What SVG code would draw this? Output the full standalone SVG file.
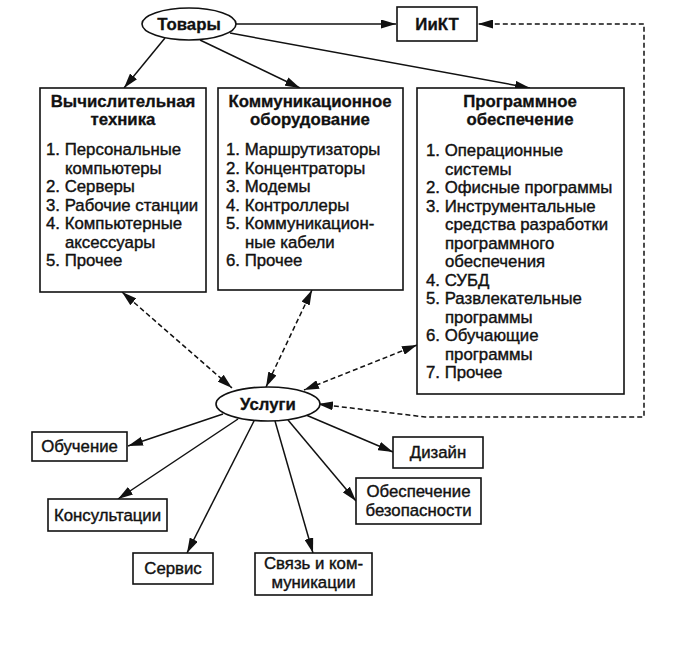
<svg xmlns="http://www.w3.org/2000/svg" width="678" height="671" viewBox="0 0 678 671">
<style>
.bx{fill:#fff;stroke:#111;stroke-width:1.6}
.el{fill:#fff;stroke:#111;stroke-width:1.6}
.t{font-family:"Liberation Sans",Arial,sans-serif;font-size:16.8px;fill:#111;stroke:#111;stroke-width:0.4}
.h{font-family:"Liberation Sans",Arial,sans-serif;font-size:16.8px;font-weight:bold;fill:#111;stroke:#111;stroke-width:0.3}
.c{text-anchor:middle}
.ln{fill:none;stroke:#111;stroke-width:1.5}
.ds{fill:none;stroke:#111;stroke-width:1.5;stroke-dasharray:5 3}
</style>
<defs>
<marker id="ah" viewBox="0 0 15 9" refX="15" refY="4.5" markerWidth="15" markerHeight="9" markerUnits="userSpaceOnUse" orient="auto-start-reverse">
<path d="M0,0 L15,4.5 L0,9 Z" fill="#111"/>
</marker>
</defs>
<rect width="678" height="671" fill="#fff"/>
<g id="connectors">
<line class="ln" x1="236" y1="24" x2="396" y2="24" marker-end="url(#ah)"/>
<line class="ln" x1="165" y1="38" x2="124" y2="88" marker-end="url(#ah)"/>
<line class="ln" x1="200" y1="40" x2="300" y2="88" marker-end="url(#ah)"/>
<line class="ln" x1="230" y1="33" x2="530" y2="88" marker-end="url(#ah)"/>
<polyline class="ds" points="318,404 425,417 644,417 644,24 478,24" marker-start="url(#ah)" marker-end="url(#ah)"/>
<line class="ds" x1="122" y1="292" x2="232" y2="388" marker-start="url(#ah)" marker-end="url(#ah)"/>
<line class="ds" x1="312" y1="290" x2="266" y2="387" marker-start="url(#ah)" marker-end="url(#ah)"/>
<line class="ds" x1="417" y1="345" x2="304" y2="390" marker-start="url(#ah)" marker-end="url(#ah)"/>
<line class="ln" x1="223" y1="414" x2="128" y2="446" marker-end="url(#ah)"/>
<line class="ln" x1="238" y1="419" x2="118" y2="499" marker-end="url(#ah)"/>
<line class="ln" x1="254" y1="421" x2="187" y2="553" marker-end="url(#ah)"/>
<line class="ln" x1="275" y1="421" x2="313" y2="553" marker-end="url(#ah)"/>
<line class="ln" x1="288" y1="420" x2="356" y2="501" marker-end="url(#ah)"/>
<line class="ln" x1="306" y1="415" x2="393" y2="452" marker-end="url(#ah)"/>
</g>
<g id="tovary">
<ellipse class="el" cx="189" cy="24" rx="47" ry="16"/>
<text class="h c" x="189" y="30">Товары</text>
</g>
<g id="ikt">
<rect class="bx" x="397" y="7" width="80" height="34"/>
<text class="h c" x="437" y="30">ИиКТ</text>
</g>
<g id="vt">
<rect class="bx" x="40" y="88" width="166" height="204"/>
<text class="h c" x="123" y="107">Вычислительная</text>
<text class="h c" x="123" y="125">техника</text>
<text class="t" x="46" y="155">1. Персональные</text>
<text class="t" x="65" y="173.5">компьютеры</text>
<text class="t" x="46" y="192">2. Серверы</text>
<text class="t" x="46" y="210.5">3. Рабочие станции</text>
<text class="t" x="46" y="229">4. Компьютерные</text>
<text class="t" x="65" y="247.5">аксессуары</text>
<text class="t" x="46" y="266">5. Прочее</text>
</g>
<g id="ko">
<rect class="bx" x="218" y="88" width="185" height="202"/>
<text class="h c" x="310" y="107">Коммуникационное</text>
<text class="h c" x="310" y="125">оборудование</text>
<text class="t" x="226" y="155">1. Маршрутизаторы</text>
<text class="t" x="226" y="173.5">2. Концентраторы</text>
<text class="t" x="226" y="192">3. Модемы</text>
<text class="t" x="226" y="210.5">4. Контроллеры</text>
<text class="t" x="226" y="229">5. Коммуникацион-</text>
<text class="t" x="245" y="247.5">ные кабели</text>
<text class="t" x="226" y="266">6. Прочее</text>
</g>
<g id="po">
<rect class="bx" x="417" y="88" width="207" height="306"/>
<text class="h c" x="520" y="107">Программное</text>
<text class="h c" x="520" y="125">обеспечение</text>
<text class="t" x="426" y="156">1. Операционные</text>
<text class="t" x="445" y="174.5">системы</text>
<text class="t" x="426" y="193">2. Офисные программы</text>
<text class="t" x="426" y="211.5">3. Инструментальные</text>
<text class="t" x="445" y="230">средства разработки</text>
<text class="t" x="445" y="248.5">программного</text>
<text class="t" x="445" y="267">обеспечения</text>
<text class="t" x="426" y="285.5">4. СУБД</text>
<text class="t" x="426" y="304">5. Развлекательные</text>
<text class="t" x="445" y="322.5">программы</text>
<text class="t" x="426" y="341">6. Обучающие</text>
<text class="t" x="445" y="359.5">программы</text>
<text class="t" x="426" y="378">7. Прочее</text>
</g>
<g id="uslugi">
<ellipse class="el" cx="268" cy="404" rx="52" ry="17"/>
<text class="h c" x="268" y="410">Услуги</text>
</g>
<g id="obuchenie">
<rect class="bx" x="32" y="432" width="95" height="29"/>
<text class="t c" x="79.5" y="452">Обучение</text>
</g>
<g id="konsult">
<rect class="bx" x="48" y="499" width="119" height="32"/>
<text class="t c" x="107.5" y="521">Консультации</text>
</g>
<g id="servis">
<rect class="bx" x="133" y="553" width="80" height="31"/>
<text class="t c" x="173" y="574">Сервис</text>
</g>
<g id="svyaz">
<rect class="bx" x="255" y="553" width="117" height="42"/>
<text class="t c" x="313.5" y="569">Связь и ком-</text>
<text class="t c" x="313.5" y="588">муникации</text>
</g>
<g id="bezop">
<rect class="bx" x="356" y="478" width="125" height="46"/>
<text class="t c" x="418.5" y="497">Обеспечение</text>
<text class="t c" x="418.5" y="516">безопасности</text>
</g>
<g id="dizain">
<rect class="bx" x="393" y="437" width="90" height="31"/>
<text class="t c" x="438" y="458">Дизайн</text>
</g>
</svg>
